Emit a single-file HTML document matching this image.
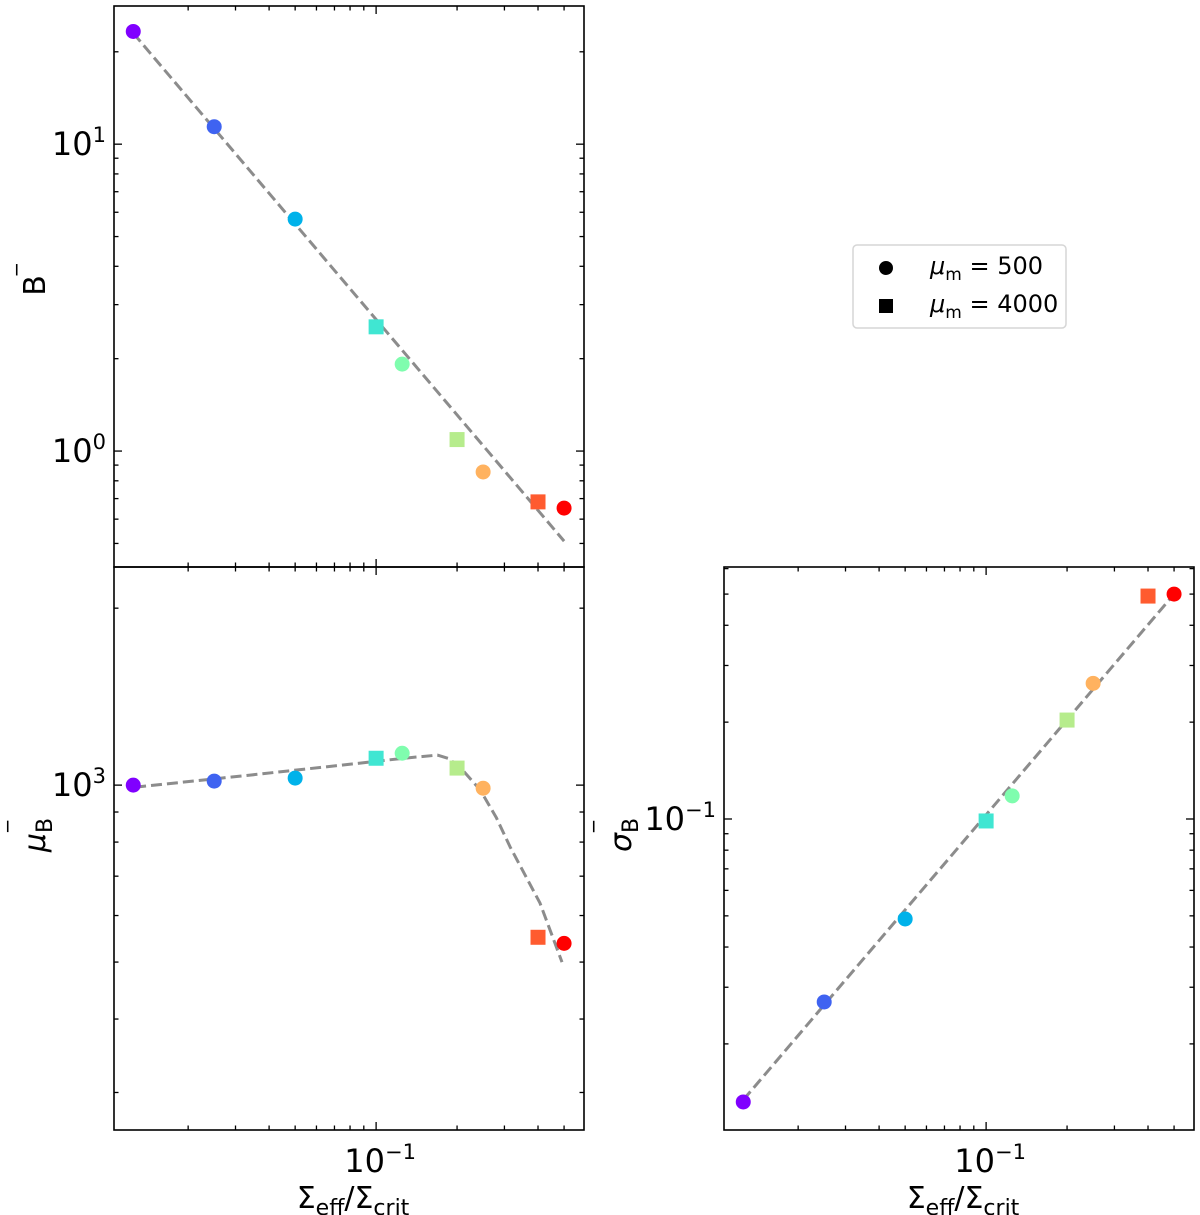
<!DOCTYPE html>
<html><head><meta charset="utf-8"><style>
html,body{margin:0;padding:0;background:#fff}
svg{display:block;font-family:"DejaVu Sans","Liberation Sans",sans-serif}
</style></head><body>
<svg id="chart" width="1200" height="1215" viewBox="0 0 1200 1215" xmlns="http://www.w3.org/2000/svg"></svg>
<script>
const xValues = [0.0125, 0.025, 0.05, 0.1, 0.125, 0.2, 0.25, 0.4, 0.5];
const markerShapes = ["circle","circle","circle","square","circle","square","circle","square","circle"];
const markerColors = ["#8000ff","#3f63f1","#00b2ea","#40e6d2","#7ffdae","#b6ec8c","#ffb25f","#ff5b2f","#ff0000"];
const bValues = [23.3, 11.4, 5.7, 2.54, 1.92, 1.09, 0.855, 0.683, 0.652];
const muValues = [1000, 1016, 1028, 1111, 1133, 1069, 988, 551, 538];
const sigmaValues = [0.0132, 0.027, 0.0489, 0.0986, 0.118, 0.203, 0.264, 0.493, 0.5];
const bFitX = [0.0125, 0.5];
const bFitY = [23.0, 0.509];
const muFitX = [0.0127, 0.034, 0.0873, 0.126, 0.169, 0.185, 0.205, 0.244, 0.28, 0.315, 0.36, 0.407, 0.491];
const muFitY = [992, 1040, 1090, 1111, 1125, 1111, 1073, 981, 880, 785, 700, 630, 500];
const sigmaFitX = [0.0125, 0.5];
const sigmaFitY = [0.0134, 0.5];

const svg = document.getElementById('chart');
const NS = "http://www.w3.org/2000/svg";
function mk(tag, attrs, parent){ const e=document.createElementNS(NS,tag); for(const k in attrs) e.setAttribute(k,attrs[k]); (parent||svg).appendChild(e); return e; }
function logScale(d0,d1,r0,r1){ const l0=Math.log10(d0),l1=Math.log10(d1); return v=>r0+(Math.log10(v)-l0)/(l1-l0)*(r1-r0); }

const XMIN=0.0106, XMAX=0.593;
const panels = [
 {name:'b-panel', x0:114,x1:584,y0:6,y1:567, ymin:0.419,ymax:28.2, vals:bValues, fx:bFitX, fy:bFitY, bottomLabels:false,
  yMajor:[1,10], yLabels:["10<tspan dy='-13' font-size='21'>0</tspan>","10<tspan dy='-13' font-size='21'>1</tspan>"], ylabel:'B̄', ylx:36, yly:280},
 {name:'mu-panel', x0:114,x1:584,y0:567,y1:1130, ymin:259,ymax:2350, vals:muValues, fx:muFitX, fy:muFitY, bottomLabels:true,
  yMajor:[1000], yLabels:["10<tspan dy='-13' font-size='21'>3</tspan>"], ylabel:'μ', ylx:36, yly:835, sub:'B'},
 {name:'sigma-panel', x0:724,x1:1194,y0:567,y1:1130, ymin:0.0108,ymax:0.607, vals:sigmaValues, fx:sigmaFitX, fy:sigmaFitY, bottomLabels:true,
  yMajor:[0.1], yLabels:["10<tspan dy='-13' font-size='21'>−1</tspan>"], ylabel:'σ', ylx:622, yly:835, sub:'B'}
];

panels.forEach(p=>{
  const g = mk('g',{});
  
  
  const sx = logScale(XMIN,XMAX,p.x0,p.x1);
  const sy = logScale(p.ymin,p.ymax,p.y1,p.y0);
  const tg = mk('g',{stroke:'#000','stroke-width':1.3},g);
  
  
  for(let e=-3;e<=4;e++){ for(let m=1;m<10;m++){ const v=m*Math.pow(10,e);
      if(v>=XMIN && v<=XMAX){ const x=sx(v); const L=m===1?8:4.5;
        mk('line',{x1:x,x2:x,y1:p.y1,y2:p.y1-L},tg); mk('line',{x1:x,x2:x,y1:p.y0,y2:p.y0+L},tg); }
      if(v>=p.ymin && v<=p.ymax){ const y=sy(v); const L=m===1?8:4.5;
        mk('line',{x1:p.x0,x2:p.x0+L,y1:y,y2:y},tg); mk('line',{x1:p.x1,x2:p.x1-L,y1:y,y2:y},tg); } } }
  p.yMajor.forEach((v,i)=>{ const t=mk('text',{x:p.x0-8,y:sy(v)+11,'font-size':32,'text-anchor':'end'},g); t.innerHTML=p.yLabels[i];
      });
  if(p.bottomLabels){
    const t=mk('text',{x:sx(0.1)+4,y:p.y1+42,'font-size':32,'text-anchor':'middle'},g);
    t.innerHTML="10<tspan dy='-13' font-size='21'>−1</tspan>";
     
    const xl=mk('text',{x:(p.x0+p.x1)/2+4,y:p.y1+78,'font-size':30,'text-anchor':'middle'},g);
    xl.innerHTML="Σ<tspan font-size='22' dy='7'>eff</tspan><tspan dy='-7'>/Σ</tspan><tspan font-size='22' dy='7'>crit</tspan>";
     
  }
  const yl=mk('text',{transform:`translate(${p.ylx+9},${p.yly}) rotate(-90)`,'font-size':30,'text-anchor':'middle'},g);
  if(p.sub) yl.innerHTML=`<tspan font-style="italic">${p.ylabel}</tspan><tspan font-size="22" dy="7">B</tspan><tspan font-size="22" dx="-14" dy="-28">‾</tspan>`;
  else yl.innerHTML="B<tspan font-size='22' dy='-12'>‾</tspan>";
   
  const pts = p.fx.map((x,i)=>sx(x).toFixed(1)+','+sy(p.fy[i]).toFixed(1)).join(' ');
  const fl = mk('polyline',{points:pts,fill:'none',stroke:'#8c8c8c','stroke-width':3,'stroke-dasharray':'11,5','stroke-linejoin':'round'},g);
   
  xValues.forEach((xv,i)=>{ const x=sx(xv), y=sy(p.vals[i]); let m;
    if(markerShapes[i]==='circle') m=mk('circle',{cx:x,cy:y,r:7.5,fill:markerColors[i]},g);
    else m=mk('rect',{x:x-7.5,y:y-7.5,width:15,height:15,fill:markerColors[i]},g);
      });
  const fr=mk('rect',{x:p.x0,y:p.y0,width:p.x1-p.x0,height:p.y1-p.y0,fill:'none',stroke:'#000','stroke-width':1.6},g);
   
});
</script>
<svg style="position:absolute;left:852px;top:244px" width="216" height="86" xmlns="http://www.w3.org/2000/svg">
  <rect x="1" y="1" width="213" height="83" rx="4" fill="#fff" stroke="#d6d6d6" stroke-width="1.5"/>
  <circle cx="34" cy="24" r="7" fill="#000"/>
  <text x="78" y="30" font-size="24" font-family="DejaVu Sans, Liberation Sans, sans-serif"><tspan font-style="italic">μ</tspan><tspan font-size="17" dy="6">m</tspan><tspan dy="-6"> = 500</tspan></text>
  <rect x="27" y="55" width="14" height="14" fill="#000"/>
  <text x="78" y="68" font-size="24" font-family="DejaVu Sans, Liberation Sans, sans-serif"><tspan font-style="italic">μ</tspan><tspan font-size="17" dy="6">m</tspan><tspan dy="-6"> = 4000</tspan></text>
</svg>
</body></html>
